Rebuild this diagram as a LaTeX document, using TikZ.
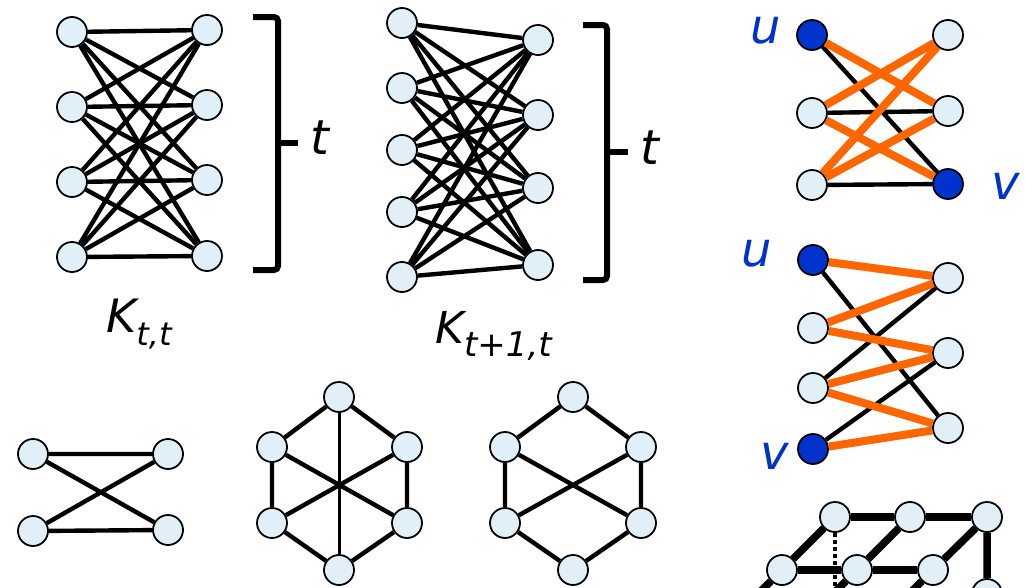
\documentclass[tikz,border=0pt]{standalone}
\usepackage{fontspec}
\setmainfont{DejaVu Sans}
\definecolor{GraphFill}{HTML}{E1EFF9}
\definecolor{GraphBlue}{HTML}{0033CC}
\definecolor{GraphOrange}{HTML}{FF6600}

\begin{document}
\begin{tikzpicture}[x=1pt, y=-1pt,
        vtx/.style={circle, draw=black, fill=GraphFill, line width=1.8pt, minimum size=30pt, inner sep=0pt},
        hub/.style={vtx, fill=GraphBlue},
        edge/.style={line width=4.4pt, black},
        hot/.style={line width=8pt, GraphOrange},
        grid/.style={line width=7.5pt, black},
        brace/.style={line width=6pt, rounded corners=4pt},
        lbl/.style={inner sep=0pt, font=\fontsize{48}{50}\selectfont\itshape},
        ulbl/.style={lbl, text=GraphBlue}
    ]
        \useasboundingbox (0,0) rectangle (1025,587);
        \clip (0,0) rectangle (1025,587);

        % K_{t,t}
        \node[vtx] (a1) at (72,32) {};
        \node[vtx] (a2) at (72,107) {};
        \node[vtx] (a3) at (72,182) {};
        \node[vtx] (a4) at (72,257) {};
        \node[vtx] (b1) at (207,30) {};
        \node[vtx] (b2) at (207,105) {};
        \node[vtx] (b3) at (207,180) {};
        \node[vtx] (b4) at (207,256) {};

        \draw[edge] (a1) -- (b1) (a1) -- (b2) (a1) -- (b3) (a1) -- (b4);
        \draw[edge] (a2) -- (b1) (a2) -- (b2) (a2) -- (b3) (a2) -- (b4);
        \draw[edge] (a3) -- (b1) (a3) -- (b2) (a3) -- (b3) (a3) -- (b4);
        \draw[edge] (a4) -- (b1) (a4) -- (b2) (a4) -- (b3) (a4) -- (b4);

        \draw[brace] (253,17) -- (278,17) -- (278,270) -- (253,270);
        \draw[brace] (278,143) -- (298,143);
        \node[lbl] (tA) at (320,138) {t};
        \node[lbl, font=\fontsize{46}{48}\selectfont\itshape, anchor=base west] (kA) at (106,332) {K\raisebox{-13pt}{\fontsize{32}{34}\selectfont t,t}};

        % K_{t+1,t}
        \node[vtx] (c1) at (402,23) {};
        \node[vtx] (c2) at (402,88) {};
        \node[vtx] (c3) at (402,150) {};
        \node[vtx] (c4) at (402,212) {};
        \node[vtx] (c5) at (402,277) {};
        \node[vtx] (d1) at (538,40) {};
        \node[vtx] (d2) at (538,115) {};
        \node[vtx] (d3) at (538,188) {};
        \node[vtx] (d4) at (538,265) {};

        \draw[edge] (c1) -- (d1) (c1) -- (d2) (c1) -- (d3) (c1) -- (d4);
        \draw[edge] (c2) -- (d1) (c2) -- (d2) (c2) -- (d3) (c2) -- (d4);
        \draw[edge] (c3) -- (d1) (c3) -- (d2) (c3) -- (d3) (c3) -- (d4);
        \draw[edge] (c4) -- (d1) (c4) -- (d2) (c4) -- (d3) (c4) -- (d4);
        \draw[edge] (c5) -- (d1) (c5) -- (d2) (c5) -- (d3) (c5) -- (d4);

        \draw[brace] (583,25) -- (607,25) -- (607,280) -- (583,280);
        \draw[brace] (607,152) -- (628,152);
        \node[lbl] (tB) at (650,148) {t};
        \node[lbl, font=\fontsize{44}{46}\selectfont\itshape, anchor=base west] (kB) at (435,343) {K\raisebox{-13pt}{\fontsize{34}{36}\selectfont t+1,t}};

        % paths u to v, three rows
        \node[hub] (p1) at (812,35) {};
        \node[vtx] (p2) at (812,113) {};
        \node[vtx] (p3) at (812,185) {};
        \node[vtx] (q1) at (948,35) {};
        \node[vtx] (q2) at (948,111) {};
        \node[hub] (q3) at (948,184) {};
        \node[ulbl] (uA) at (766,31) {u};
        \node[ulbl] (vA) at (1006,186) {v};

        \draw[edge] (p1) -- (q3) (p2) -- (q2) (p3) -- (q3);
        \draw[hot] (p1) -- (q2) (p2) -- (q1) (p2) -- (q3) (p3) -- (q1) (p3) -- (q2);

        % paths u to v, four rows
        \node[hub] (r1) at (813,260) {};
        \node[vtx] (r2) at (813,328) {};
        \node[vtx] (r3) at (813,388) {};
        \node[hub] (r4) at (813,449) {};
        \node[vtx] (s1) at (948,278) {};
        \node[vtx] (s2) at (948,353) {};
        \node[vtx] (s3) at (948,428) {};
        \node[ulbl] (uB) at (757,254) {u};
        \node[ulbl] (vB) at (775,456) {v};

        \draw[edge] (r1) -- (s3) (r3) -- (s1) (r4) -- (s2);
        \draw[hot] (r1) -- (s1) (r2) -- (s1) (r2) -- (s2) (r3) -- (s2) (r3) -- (s3) (r4) -- (s3);

        % K_{2,2}
        \node[vtx] (e1) at (33,454) {};
        \node[vtx] (e2) at (168,454) {};
        \node[vtx] (e3) at (33,531) {};
        \node[vtx] (e4) at (168,530) {};

        \draw[edge] (e1) -- (e2) (e3) -- (e4) (e1) -- (e4) (e3) -- (e2);

        % hexagon with all diagonals
        \node[vtx] (h1) at (339,397) {};
        \node[vtx] (h2) at (272,447) {};
        \node[vtx] (h3) at (407,447) {};
        \node[vtx] (h4) at (272,523) {};
        \node[vtx] (h5) at (407,523) {};
        \node[vtx] (h6) at (339,570) {};

        \draw[edge] (h1) -- (h2) (h1) -- (h3) (h2) -- (h4) (h3) -- (h5) (h4) -- (h6) (h5) -- (h6);
        \draw[edge] (h2) -- (h5) (h3) -- (h4);
        \draw[edge, line width=3pt] (h1) -- (h6);

        % hexagon, two diagonals
        \node[vtx] (g1) at (573,397) {};
        \node[vtx] (g2) at (505,447) {};
        \node[vtx] (g3) at (641,447) {};
        \node[vtx] (g4) at (505,523) {};
        \node[vtx] (g5) at (641,523) {};
        \node[vtx] (g6) at (573,570) {};

        \draw[edge] (g1) -- (g2) (g1) -- (g3) (g2) -- (g4) (g3) -- (g5) (g4) -- (g6) (g5) -- (g6);
        \draw[edge] (g2) -- (g5) (g3) -- (g4);

        % grid, cut at the border
        \node[vtx] (n1) at (835,517) {};
        \node[vtx] (n2) at (910,517) {};
        \node[vtx] (n3) at (987,517) {};
        \node[vtx] (m1) at (782,570) {};
        \node[vtx] (m2) at (857,570) {};
        \node[vtx] (m3) at (933,570) {};
        \node[vtx] (k1) at (987,594) {};
        \coordinate (m1x) at (729,623);
        \coordinate (m2x) at (804,623);
        \coordinate (m3x) at (880,623);
        \coordinate (n1x) at (835,640);

        \draw[grid] (n1) -- (n2) (n2) -- (n3) (m1) -- (m2) (m2) -- (m3);
        \draw[grid] (n1) -- (m1) (n2) -- (m2) (n3) -- (m3) (n3) -- (k1);
        \draw[grid] (m1) -- (m1x) (m2) -- (m2x) (m3) -- (m3x);
        \draw[line width=4.5pt, dash pattern=on 4pt off 3pt] (n1) -- (n1x);
    \end{tikzpicture}
\end{document}
